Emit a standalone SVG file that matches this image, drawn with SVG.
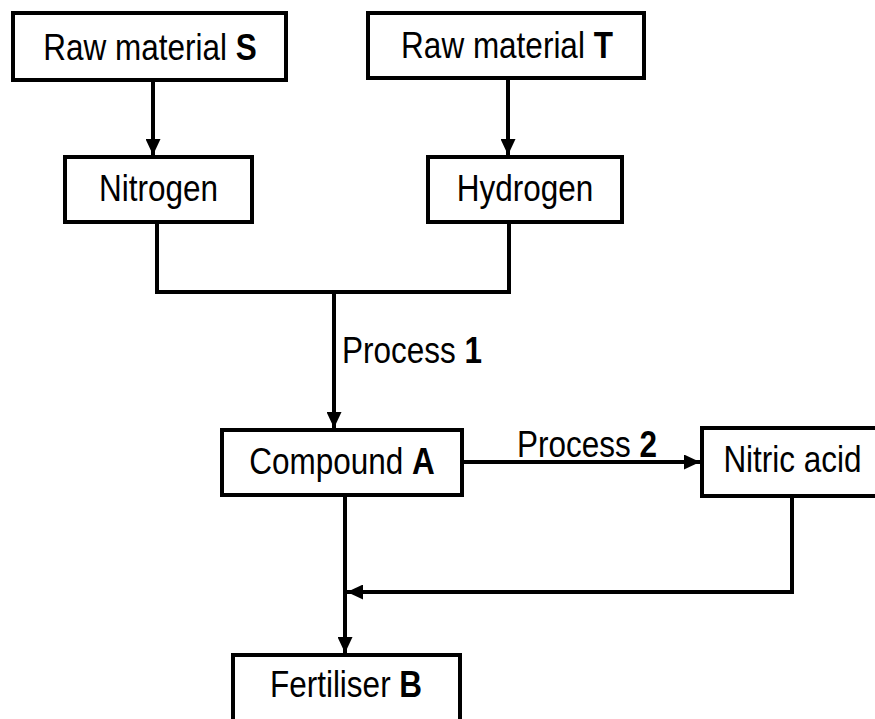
<svg xmlns="http://www.w3.org/2000/svg" width="875" height="719" viewBox="0 0 875 719">
<style>
.box{fill:#fff;stroke:#000;stroke-width:4}
.ln{fill:none;stroke:#000;stroke-width:4}
text{font-family:"Liberation Sans",Arial,sans-serif;font-size:31.5px;fill:#000}
.c{text-anchor:middle}
.b{font-weight:bold}
</style>
<defs>
<marker id="ah" markerUnits="userSpaceOnUse" markerWidth="17" markerHeight="15" refX="16" refY="7.5" orient="auto">
<path d="M0,0 L16,7.5 L0,15 Z" fill="#000"/>
</marker>
</defs>
<rect width="875" height="719" fill="#fff"/>
<g id="connectors">
<path class="ln" d="M153,80 V155" marker-end="url(#ah)"/>
<path class="ln" d="M508,78 V155" marker-end="url(#ah)"/>
<path class="ln" d="M157,222 V292 H509 V222"/>
<path class="ln" d="M334,292 V428" marker-end="url(#ah)"/>
<path class="ln" d="M462,462 H700" marker-end="url(#ah)"/>
<path class="ln" d="M345,495 V653" marker-end="url(#ah)"/>
<path class="ln" d="M792,497 V592 H347" marker-end="url(#ah)"/>
<text transform="translate(342 363) scale(1 1.15)">Process <tspan class="b">1</tspan></text>
<text class="c" transform="translate(587 457) scale(1 1.15)">Process <tspan class="b">2</tspan></text>
</g>
<g id="rawS">
<rect class="box" x="13" y="13" width="273" height="67"/>
<text class="c" transform="translate(150 60) scale(1 1.15)">Raw material <tspan class="b">S</tspan></text>
</g>
<g id="rawT">
<rect class="box" x="368" y="13" width="276" height="65"/>
<text class="c" transform="translate(507 58) scale(1 1.15)">Raw material <tspan class="b">T</tspan></text>
</g>
<g id="nitrogen">
<rect class="box" x="65" y="157" width="187" height="65"/>
<text class="c" transform="translate(158.5 201) scale(1 1.15)">Nitrogen</text>
</g>
<g id="hydrogen">
<rect class="box" x="428" y="157" width="194" height="65"/>
<text class="c" transform="translate(525 201) scale(1 1.15)">Hydrogen</text>
</g>
<g id="compoundA">
<rect class="box" x="222" y="430" width="240" height="65"/>
<text class="c" transform="translate(342 474) scale(1 1.15)">Compound <tspan class="b">A</tspan></text>
</g>
<g id="nitricAcid">
<rect class="box" x="702" y="428" width="185" height="68"/>
<text class="c" transform="translate(792.5 472) scale(1 1.15)">Nitric acid</text>
</g>
<g id="fertiliserB">
<rect class="box" x="233" y="655" width="227" height="70"/>
<text class="c" transform="translate(346 697) scale(1 1.15)">Fertiliser <tspan class="b">B</tspan></text>
</g>
</svg>
